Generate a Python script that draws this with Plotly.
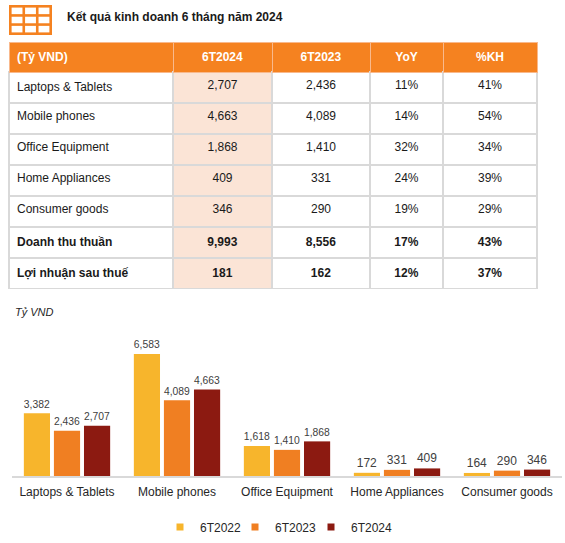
import plotly.graph_objects as go

W, H = 565, 543

# --- du lieu ---
categories = ["Laptops & Tablets", "Mobile phones", "Office Equipment",
              "Home Appliances", "Consumer goods"]
rev_6t2022 = [3382, 6583, 1618, 172, 164]
rev_6t2023 = [2436, 4089, 1410, 331, 290]
rev_6t2024 = [2707, 4663, 1868, 409, 346]

row_labels = categories + ["Doanh thu thuần", "Lợi nhuận sau thuế"]
tbl_6t2024 = rev_6t2024 + [9993, 181]
tbl_6t2023 = rev_6t2023 + [8556, 162]
tbl_yoy = [11, 14, 32, 24, 19, 17, 12]
tbl_kh = [41, 54, 34, 39, 29, 43, 37]
header_labels = ["(Tỷ VND)", "6T2024", "6T2023", "YoY", "%KH"]

series_names = ["6T2022", "6T2023", "6T2024"]
colors = ["#F7B52C", "#F07F22", "#8C1A11"]
ORANGE = "#F58220"
FONT = "Arial, Liberation Sans, sans-serif"


def py(px):
    return 1 - px / H


def px_x(px):
    return px / W


def b(s, bold):
    return f"<b>{s}</b>" if bold else s


n = len(row_labels)
is_bold = [i >= n - 2 for i in range(n)]  # 2 dong tong in dam

col_text = [
    [b(r, k) for r, k in zip(row_labels, is_bold)],
    [b(f"{v:,}", k) for v, k in zip(tbl_6t2024, is_bold)],
    [b(f"{v:,}", k) for v, k in zip(tbl_6t2023, is_bold)],
    [b(f"{v}%", k) for v, k in zip(tbl_yoy, is_bold)],
    [b(f"{v}%", k) for v, k in zip(tbl_kh, is_bold)],
]

fig = go.Figure()

fig.add_trace(go.Table(
    domain=dict(x=[px_x(9), px_x(537)], y=[py(290), py(42)]),
    columnwidth=[164, 99, 98, 73, 94],
    header=dict(
        values=[f"<b>{h}</b>" for h in header_labels],
        fill_color=ORANGE,
        line=dict(color="#F9B98C", width=1),
        font=dict(family=FONT, size=12, color="white"),
        align=["left", "center", "center", "center", "center"],
        height=29,
    ),
    cells=dict(
        values=col_text,
        fill_color=["white", "#FBE4D6", "white", "white", "white"],
        line=dict(color="#D9D9D9", width=1.5),
        font=dict(family=FONT, size=12, color="#1A1A1A"),
        align=["left", "center", "center", "center", "center"],
        height=31,
    ),
))

# moi muc chu giai mot legend rieng de dat sat nhau
legend_ids = ["legend", "legend2", "legend3"]
for name, vals, c, lg in zip(series_names, [rev_6t2022, rev_6t2023, rev_6t2024],
                             colors, legend_ids):
    fig.add_trace(go.Bar(
        x=categories, y=vals, name=name, legendgroup=name, showlegend=False,
        marker=dict(color=c, line=dict(width=0)),
        text=[f"{v:,}" for v in vals],
        textposition="outside",
        textfont=dict(family=FONT, size=12, color="#404040"),
        cliponaxis=False,
        hoverinfo="skip",
    ))
    fig.add_trace(go.Scatter(
        x=[None], y=[None], mode="markers", name=name, legendgroup=name,
        legend=lg, hoverinfo="skip",
        marker=dict(color=c, size=7, symbol="square"),
    ))

# icon bang
shapes = [dict(type="rect", xref="paper", yref="paper",
               x0=px_x(9), x1=px_x(52), y0=py(35), y1=py(5),
               fillcolor=ORANGE, line=dict(width=0), layer="above")]
bw = 2.6
cw = (43 - 4 * bw) / 3
ch = (30 - 4 * bw) / 3
for r in range(3):
    for c in range(3):
        x0 = 9 + bw + c * (cw + bw)
        y0 = 5 + bw + r * (ch + bw)
        shapes.append(dict(type="rect", xref="paper", yref="paper",
                           x0=px_x(x0), x1=px_x(x0 + cw), y0=py(y0 + ch), y1=py(y0),
                           fillcolor="white", line=dict(width=0), layer="above"))

top_px, base_px = 330, 476
y_top = max(rev_6t2022) * (base_px - top_px) / (base_px - 354)

leg_style = dict(orientation="h", xanchor="left", y=py(527), yanchor="middle",
                 font=dict(size=12, color="#262626"), itemwidth=30,
                 bgcolor="rgba(0,0,0,0)", itemclick=False, itemdoubleclick=False)

fig.update_layout(
    width=W, height=H,
    margin=dict(l=0, r=0, t=0, b=0),
    paper_bgcolor="white", plot_bgcolor="white",
    font=dict(family=FONT, size=12, color="#262626"),
    barmode="group", bargap=0.18, bargroupgap=0.13,
    xaxis=dict(domain=[px_x(12), px_x(562)], showline=True, linecolor="#D9D9D9",
               linewidth=1.5, showgrid=False, ticks="", fixedrange=True,
               ticklabelstandoff=4,
               tickfont=dict(size=12, color="#262626")),
    yaxis=dict(domain=[py(base_px), py(top_px)], range=[0, y_top], visible=False,
               showgrid=False, fixedrange=True),
    showlegend=True,
    legend=dict(x=px_x(160), **leg_style),
    legend2=dict(x=px_x(235), **leg_style),
    legend3=dict(x=px_x(311), **leg_style),
    shapes=shapes,
    annotations=[
        dict(text="<b>Kết quả kinh doanh 6 tháng năm 2024</b>", x=px_x(65), y=py(17),
             xref="paper", yref="paper", xanchor="left", yanchor="middle",
             showarrow=False, font=dict(size=12, color="#1A1A1A")),
        dict(text="<i>Tỷ VND</i>", x=px_x(13), y=py(312),
             xref="paper", yref="paper", xanchor="left", yanchor="middle",
             showarrow=False, font=dict(size=11, color="#262626")),
    ],
)

fig.write_html("out.html", config={"displayModeBar": False},
               post_script="document.body.style.margin='0';")
